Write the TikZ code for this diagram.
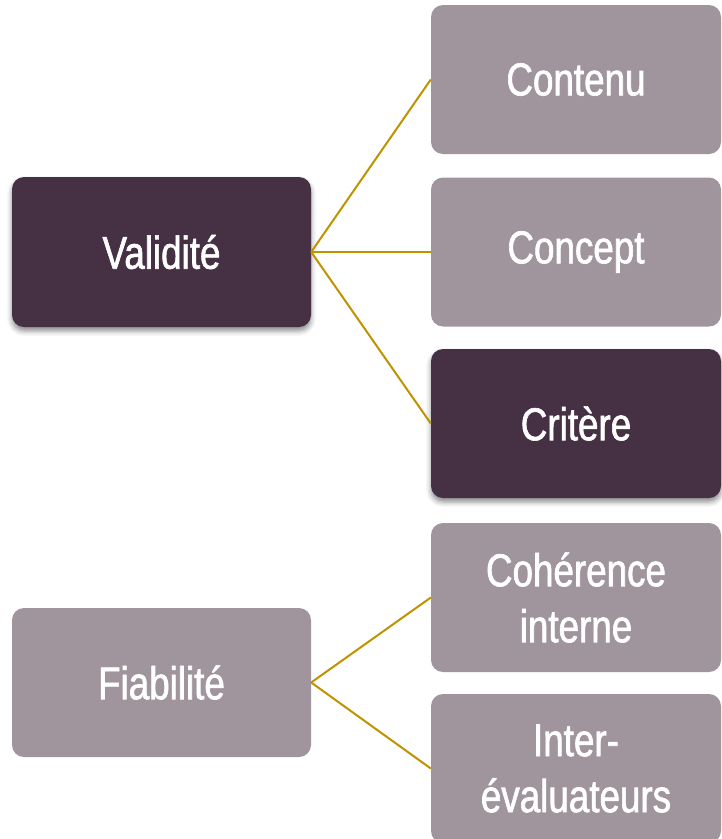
\documentclass[tikz,border=0pt]{standalone}
\usepackage{fontspec}
\setmainfont{Liberation Sans}[FakeStretch=0.8,FakeBold=1.4]
\usepackage{tikz}
\usetikzlibrary{shadows.blur}
\usetikzlibrary{positioning}

\definecolor{plum}{RGB}{70,48,67}
\definecolor{mauve}{RGB}{161,149,157}
\definecolor{gold}{RGB}{193,146,0}

\tikzset{
  box/.style={rounded corners=12pt,minimum width=290pt,minimum height=149pt,
    text=white,align=center,font=\fontsize{46}{56}\selectfont,inner sep=0pt},
  darkbox/.style={box,fill=plum,
    blur shadow={shadow xshift=0pt,shadow yshift=-4pt,shadow blur radius=5pt,shadow opacity=45}},
  lightbox/.style={box,fill=mauve},
  link/.style={gold,line width=2pt}
}

\begin{document}
\begin{tikzpicture}[x=1pt,y=-1pt]
\useasboundingbox (0,0) rectangle (722,839);

% left column
\coordinate (v) at (161.5,252);
\coordinate (f) at (161.5,682.5);

\node[darkbox,minimum width=299pt,minimum height=150pt] (validite) at (v) {Validité};
\node[lightbox,minimum width=299pt] (fiabilite) at (f) {Fiabilité};

% right column
\node[lightbox] (contenu) at (576,79.5) {Contenu};
\node[lightbox] (concept) at (576,252) {Concept};
\node[darkbox] (critere) at (576,423.5) {Critère};

\node[lightbox] (coherence) at (576,597.5) {Cohérence\\interne};
\node[lightbox] (inter) at (576,768.5) {Inter-\\évaluateurs};

% links
\draw[link] (validite.east) -- (contenu.west);
\draw[link] (validite.east) -- (concept.west);
\draw[link] (validite.east) -- (critere.west);

\draw[link] (fiabilite.east) -- (coherence.west);
\draw[link] (fiabilite.east) -- (inter.west);

\end{tikzpicture}
\end{document}
